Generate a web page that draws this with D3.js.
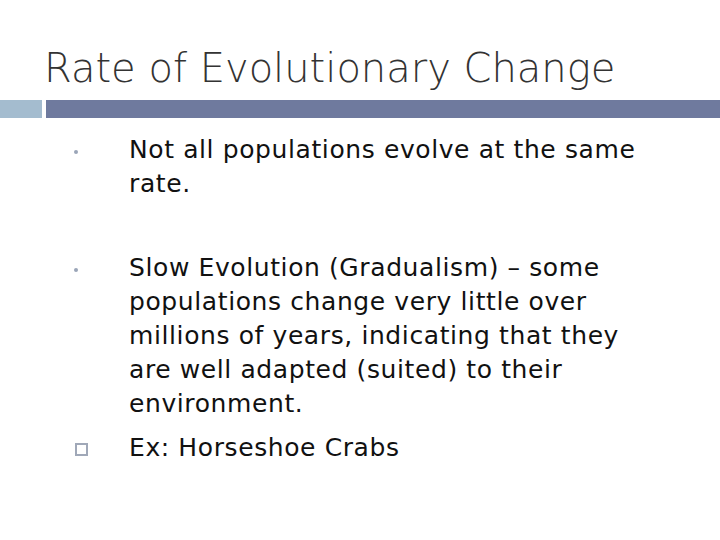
<!DOCTYPE html>
<html><head><meta charset="utf-8">
<script src="https://cdn.jsdelivr.net/npm/d3@7"></script>
<style>body{margin:0;background:#fff}</style></head>
<body><div class="canvas"></div>
<script>
const title = 'Rate of Evolutionary Change';
const bullets = [
  {marker: 'dot', lines: ['Not all populations evolve at the same', 'rate.'], top: 158},
  {marker: 'dot', lines: ['Slow Evolution (Gradualism) \u2013 some', 'populations change very little over',
    'millions of years, indicating that they', 'are well adapted (suited) to their', 'environment.'], top: 276},
  {marker: 'square', lines: ['Ex: Horseshoe Crabs'], top: 456}
];
const lineGap = 34;

const svg = d3.select('.canvas').append('svg')
  .attr('width', 720).attr('height', 540);

svg.append('text')
  .attr('x', 44).attr('y', 82)
  .attr('font-family', 'DejaVu Sans').attr('font-size', 40).attr('font-weight', 300)
  .attr('fill', '#333')
  .text(title);

// header bar
svg.append('rect').attr('x', 0).attr('y', 100).attr('width', 42).attr('height', 18).attr('fill', '#a4bccf');
svg.append('rect').attr('x', 46).attr('y', 100).attr('width', 674).attr('height', 18).attr('fill', '#6f7a9e');

const g = svg.selectAll('g.bullet').data(bullets).enter().append('g').attr('class', 'bullet');

g.filter(d => d.marker === 'dot').append('circle')
  .attr('cx', 76).attr('cy', d => d.top - 6).attr('r', 2).attr('fill', '#9aa5b8');
g.filter(d => d.marker === 'square').append('rect')
  .attr('x', 76).attr('y', d => d.top - 12).attr('width', 11).attr('height', 11)
  .attr('fill', 'none').attr('stroke', '#a0a8b8').attr('stroke-width', 2);

g.selectAll('text').data(d => d.lines.map((l, i) => ({l, y: d.top + i * lineGap})))
  .enter().append('text')
  .attr('x', 129).attr('y', d => d.y)
  .attr('font-family', 'DejaVu Sans').attr('font-size', 25).attr('letter-spacing', 0.6)
  .attr('fill', '#111')
  .text(d => d.l);
</script></body></html>
